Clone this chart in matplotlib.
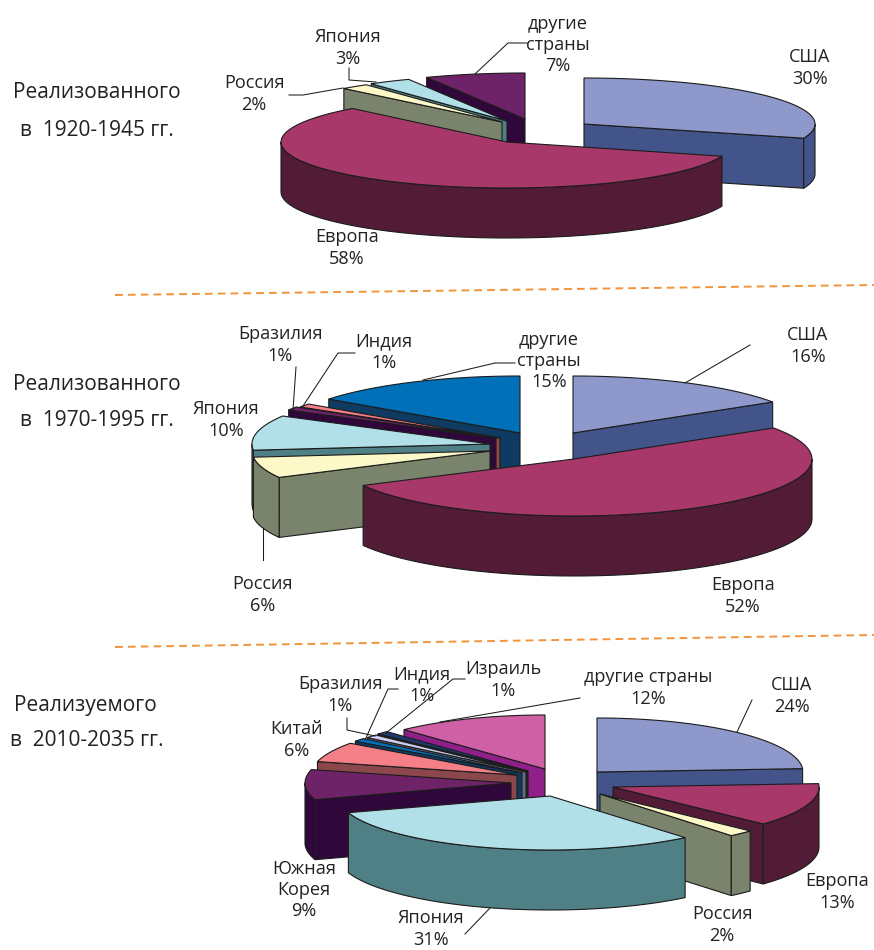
import numpy as np
import matplotlib
matplotlib.use("Agg")
import matplotlib.pyplot as plt
from matplotlib.patches import Polygon

plt.rcParams['font.family'] = ['Open Sans', 'DejaVu Sans']

# shares, clockwise from 12 o'clock
names1 = ['США', 'Европа', 'Россия', 'Япония', 'другие\nстраны']
values1 = [30, 58, 2, 3, 7]

names2 = ['США', 'Европа', 'Россия', 'Япония', 'Бразилия', 'Индия', 'другие\nстраны']
values2 = [16, 52, 6, 10, 1, 1, 15]

names3 = ['США', 'Европа', 'Россия', 'Япония', 'Южная\nКорея', 'Китай',
          'Бразилия', 'Индия', 'Израиль', 'другие страны']
values3 = [24, 13, 2, 31, 9, 6, 1, 1, 1, 12]

# (top colour, wall colour)
USA = ('#8e98cb', '#42548a')
EUROPE = ('#a9386a', '#521b36')
RUSSIA = ('#fdf8c8', '#7a846c')
JAPAN = ('#b1e0e9', '#4e8085')
PURPLE = ('#6e2268', '#30073a')
BLUE = ('#0070b9', '#0f3a62')
PINK = ('#f57f86', '#8b474b')
LAVENDER = ('#cbcff0', '#676b85')
NAVY = ('#1e3a70', '#222222')
ORCHID = ('#cf60a5', '#8f2089')

colors1 = [USA, EUROPE, RUSSIA, JAPAN, PURPLE]
colors2 = [USA, EUROPE, RUSSIA, JAPAN, PURPLE, PINK, BLUE]
colors3 = [USA, EUROPE, RUSSIA, JAPAN, PURPLE, PINK, BLUE, LAVENDER, NAVY, ORCHID]

# where each exploded slice has its tip
tips1 = [(584, 124), (507, 142), (502, 122), (507, 121), (525, 119)]
tips2 = [(573, 433), (574, 459), (490, 451), (490, 444), (496, 438), (500, 438), (520, 433)]
tips3 = [(597, 772), (613, 787), (600, 794), (550, 796), (511, 783), (517, 775),
         (522, 773), (526, 772), (528, 771), (545, 769)]

# the biggest slices are not quite the same width as the rest
radii1 = [231, 226, 231, 231, 231]
radii3 = [206, 206, 206, 212, 206, 206, 206, 206, 206, 206]

label_pos1 = [(810, 68), (347, 248), (254, 94), (348, 48), (558, 45)]
label_pos2 = [(808, 346), (743, 596), (263, 595), (226, 420), (280, 345), (384, 352), (549, 361)]
label_pos3 = [(792, 696), (837, 892), (722, 925), (431, 929), (304, 890), (297, 740),
              (340, 695), (422, 685), (503, 680), (648, 688)]

leaders = [
    [(289, 95), (303, 95), (343, 88)],
    [(349, 68), (349, 80), (376, 82)],
    [(527, 43), (508, 43), (475, 74)],
    [(750, 345), (685, 383)],
    [(515, 363), (495, 363), (423, 380)],
    [(355, 353), (338, 353), (303, 406)],
    [(296, 367), (293, 410)],
    [(263, 560), (263, 528)],
    [(752, 700), (737, 732)],
    [(580, 698), (440, 722)],
    [(347, 718), (347, 730), (375, 736)],
    [(398, 689), (388, 689), (365, 740)],
    [(465, 679), (453, 679), (386, 733)],
    [(490, 908), (465, 934)],
]

side_text = [
    ('Реализованного', 97, 92), ('в  1920-1945 гг.', 97, 131),
    ('Реализованного', 97, 385), ('в  1970-1995 гг.', 97, 420),
    ('Реализуемого', 85, 706), ('в  2010-2035 гг.', 87, 740),
]

EDGE = '#1c1c1c'


def arc(tip, rx, ry, a, b, n=60):
    t = np.radians(np.linspace(a, b, n))
    return np.column_stack([tip[0] + rx * np.sin(t), tip[1] - ry * np.cos(t)])


def draw_slice(ax, tip, rx, ry, depth, a, b, top, wall):
    tip = np.array(tip, float)
    drop = np.array([0, depth])

    # cut faces that look towards the viewer
    for ang, visible in ((a, np.sin(np.radians(a)) < -1e-6), (b, np.sin(np.radians(b)) > 1e-6)):
        if visible:
            p = arc(tip, rx, ry, ang, ang, 1)[0]
            ax.add_patch(Polygon([tip, p, p + drop, tip + drop], fc=wall, ec=EDGE, lw=0.8))

    # outer wall only on the near half of the ellipse
    lo, hi = max(a, 90), min(b, 270)
    if hi > lo:
        curve = arc(tip, rx, ry, lo, hi)
        ax.add_patch(Polygon(np.vstack([curve, curve[::-1] + drop]), fc=wall, ec=EDGE, lw=0.8))

    curve = arc(tip, rx, ry, a, b)
    ax.add_patch(Polygon(np.vstack([tip, curve]), fc=top, ec=EDGE, lw=0.8))


def draw_pie(ax, values, colors, tips, rx, ry, depth):
    shares = np.array(values, float) / sum(values) * 360
    ends = np.cumsum(shares)
    starts = ends - shares
    mids = (starts + ends) / 2
    radii = rx if np.ndim(rx) else [rx] * len(values)
    # back slices first so the near ones cover them
    for i in np.argsort(-np.cos(np.radians(mids))):
        draw_slice(ax, tips[i], radii[i], ry, depth, starts[i], ends[i], colors[i][0], colors[i][1])


fig = plt.figure(figsize=(8.74, 9.5), dpi=100)
ax = fig.add_axes([0, 0, 1, 1])
ax.set_xlim(0, 874)
ax.set_ylim(950, 0)
ax.axis('off')

draw_pie(ax, values1, colors1, tips1, radii1, 46, 50)
draw_pie(ax, values2, colors2, tips2, 238, 57, 60)
draw_pie(ax, values3, colors3, tips3, radii3, 54, 60)

for line in leaders:
    xs, ys = zip(*line)
    ax.plot(xs, ys, color=EDGE, lw=0.75)

for names, values, places in ((names1, values1, label_pos1),
                              (names2, values2, label_pos2),
                              (names3, values3, label_pos3)):
    for name, val, (x, y) in zip(names, values, places):
        ax.text(x, y, f'{name}\n{val}%', ha='center', va='center', fontsize=13.1,
                color='#222222', linespacing=1.22)

for s, x, y in side_text:
    ax.text(x, y, s, ha='center', va='center', fontsize=15, color='#222222')

# dashed separators between the three pies
for xs, ys in (((115, 874), (295, 285)), ((115, 874), (647, 635))):
    ax.plot(xs, ys, color='#f0953c', lw=1.4, dashes=(4, 2.6))

fig.savefig('out.png', dpi=100)
